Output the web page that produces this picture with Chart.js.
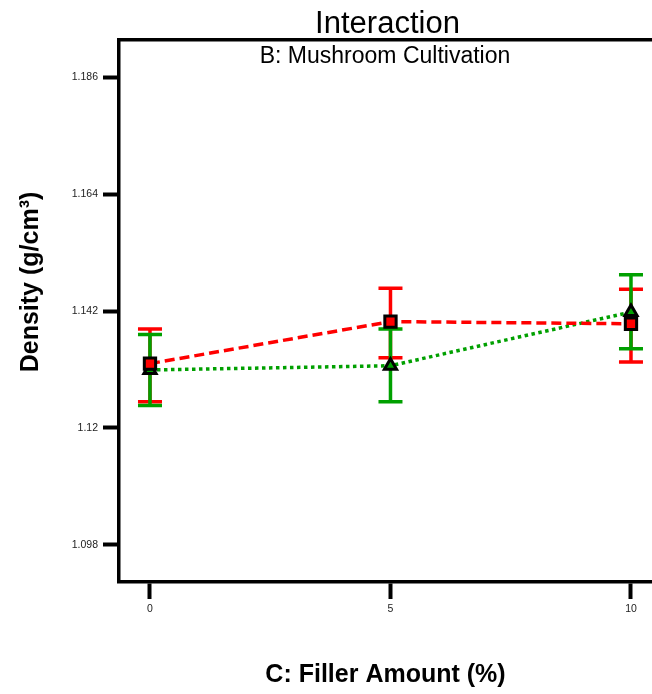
<!DOCTYPE html>
<html>
<head>
<meta charset="utf-8">
<title>Interaction</title>
<script src="https://cdn.jsdelivr.net/npm/chart.js@4.4.1/dist/chart.umd.min.js"></script>
<style>
  html, body { margin: 0; padding: 0; background: #fff; }
  canvas { display: block; }
</style>
</head>
<body>
<canvas id="chart" width="652" height="694"></canvas>
<script>
// Filler amount levels (%)
const fillerAmount = [0, 5, 10];

// B1 level: mean density with lower / upper interval limits (g/cm3)
const b1Mean = [1.1321, 1.1400, 1.1396];
const b1Low  = [1.1249, 1.1332, 1.1324];
const b1High = [1.1386, 1.1463, 1.1461];

// B2 level
const b2Mean = [1.1309, 1.1317, 1.1418];
const b2Low  = [1.1242, 1.1249, 1.1349];
const b2High = [1.1376, 1.1386, 1.1488];

const yTicks = [1.098, 1.12, 1.142, 1.164, 1.186];
const xTicks = [0, 5, 10];

const RED = '#ff0000';
const GREEN = '#00a000';
const FONT = '"Liberation Sans", Arial, Helvetica, sans-serif';

const toPoints = ys => fillerAmount.map((x, i) => ({ x: x, y: ys[i] }));

// interval bars, drawn under the lines and markers
const errorBars = {
  id: 'errorBars',
  beforeDatasetsDraw(chart) {
    const ctx = chart.ctx;
    const yScale = chart.scales.y;
    const sets = [[b1Low, b1High, RED], [b2Low, b2High, GREEN]];
    ctx.save();
    ctx.lineWidth = 3.5;
    sets.forEach(([lo, hi, color], i) => {
      const meta = chart.getDatasetMeta(i);
      ctx.strokeStyle = color;
      meta.data.forEach((pt, j) => {
        const x = pt.x;
        const y1 = yScale.getPixelForValue(lo[j]);
        const y2 = yScale.getPixelForValue(hi[j]);
        ctx.beginPath();
        ctx.moveTo(x, y1);
        ctx.lineTo(x, y2);
        ctx.moveTo(x - 12, y1);
        ctx.lineTo(x + 12, y1);
        ctx.moveTo(x - 12, y2);
        ctx.lineTo(x + 12, y2);
        ctx.stroke();
      });
    });
    ctx.restore();
  }
};

// titles and rotated y label
const labels = {
  id: 'labels',
  afterDraw(chart) {
    const ctx = chart.ctx;
    ctx.save();
    ctx.fillStyle = '#000';
    ctx.textAlign = 'center';
    ctx.textBaseline = 'alphabetic';
    ctx.font = '31px ' + FONT;
    ctx.fillText('Interaction', 387.5, 33);
    ctx.font = '23px ' + FONT;
    ctx.fillText('B: Mushroom Cultivation', 385, 63);
    ctx.translate(38, 282);
    ctx.rotate(-Math.PI / 2);
    ctx.font = 'bold 25px ' + FONT;
    ctx.fillText('Density (g/cm³)', 0, 0);
    ctx.restore();
  }
};

const xMin = -0.644, xMax = 10.437;

// keep the plot box fixed: no extra room for edge tick labels
const noEdgePadding = s => {
  s.paddingLeft = 0;
  s.paddingRight = 0;
  s.paddingTop = 0;
  s.paddingBottom = 0;
};

new Chart(document.getElementById('chart'), {
  type: 'line',
  data: {
    datasets: [
      {
        label: 'B1',
        data: toPoints(b1Mean),
        borderColor: RED,
        borderWidth: 3.5,
        borderDash: [10, 5],
        pointStyle: 'rect',
        pointRadius: 8,
        pointBackgroundColor: RED,
        pointBorderColor: '#000',
        pointBorderWidth: 3,
        tension: 0
      },
      {
        label: 'B2',
        data: toPoints(b2Mean),
        borderColor: GREEN,
        borderWidth: 3.5,
        borderDash: [3.5, 3.5],
        pointStyle: 'triangle',
        pointRadius: 7,
        pointBackgroundColor: GREEN,
        pointBorderColor: '#000',
        pointBorderWidth: 3,
        tension: 0
      }
    ]
  },
  options: {
    responsive: false,
    animation: false,
    layout: {
      autoPadding: false,
      padding: { top: 40, left: 0, right: 0, bottom: 0 }
    },
    plugins: {
      legend: { display: false },
      tooltip: { enabled: false },
      title: { display: false }
    },
    scales: {
      x: {
        type: 'linear',
        position: 'bottom',
        min: xMin,
        max: xMax,
        afterBuildTicks: s => { s.ticks = xTicks.map(v => ({ value: v })); },
        afterFit: s => { s.height = 112; noEdgePadding(s); },
        ticks: {
          padding: 4,
          color: '#222',
          font: { family: FONT, size: 10.5 },
          callback: v => String(v)
        },
        grid: {
          drawOnChartArea: false,
          drawTicks: true,
          tickLength: 17,
          tickWidth: 4,
          tickColor: '#000'
        },
        border: { display: true, color: '#000', width: 3.5 },
        title: {
          display: true,
          text: 'C: Filler Amount (%)',
          color: '#000',
          font: { family: FONT, size: 25, weight: 'bold' },
          padding: { top: 0, bottom: 4 }
        }
      },
      xTop: {
        type: 'linear',
        position: 'top',
        min: xMin,
        max: xMax,
        afterFit: s => { s.height = 0; noEdgePadding(s); },
        ticks: { display: false },
        grid: { display: false },
        border: { display: true, color: '#000', width: 3.5 }
      },
      y: {
        type: 'linear',
        position: 'left',
        min: 1.0910,
        max: 1.1930,
        afterBuildTicks: s => { s.ticks = yTicks.map(v => ({ value: v })); },
        afterFit: s => { s.width = 119; noEdgePadding(s); },
        ticks: {
          padding: 5,
          color: '#222',
          font: { family: FONT, size: 10.5 },
          callback: v => String(v)
        },
        grid: {
          drawOnChartArea: false,
          drawTicks: true,
          tickLength: 16,
          tickWidth: 4,
          tickColor: '#000'
        },
        border: { display: true, color: '#000', width: 3.5 }
      }
    }
  },
  plugins: [errorBars, labels]
});
</script>
</body>
</html>
